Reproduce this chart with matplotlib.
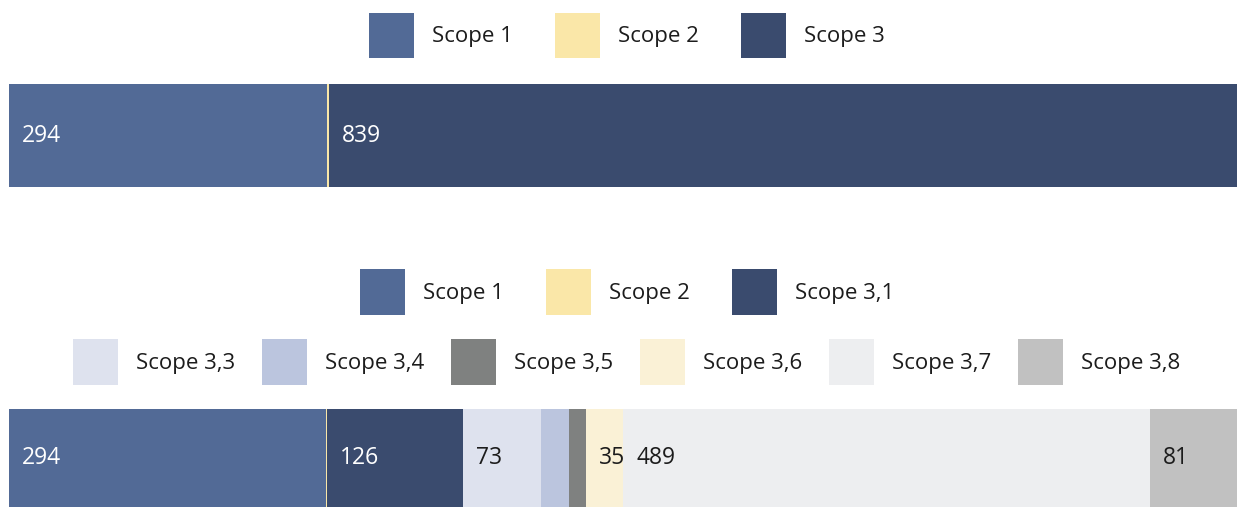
import matplotlib
matplotlib.use("Agg")
from matplotlib import pyplot as plt
from matplotlib.patches import Patch

plt.rcParams['font.family'] = ['Open Sans', 'DejaVu Sans']

# Top bar: total emissions by scope
top_labels = ["Scope 1", "Scope 2", "Scope 3"]
top_values = [294, 1.5, 839]
top_colors = ["#526a96", "#fae7a8", "#3a4b6e"]

# Bottom bar: scope 3 split into categories
bottom_labels = ["Scope 1", "Scope 2", "Scope 3,1", "Scope 3,3", "Scope 3,4",
                 "Scope 3,5", "Scope 3,6", "Scope 3,7", "Scope 3,8"]
bottom_values = [294, 1.5, 126, 73, 26, 15, 35, 489, 81]
bottom_colors = ["#526a96", "#fae7a8", "#3a4b6e", "#dee2ee", "#bbc5de",
                 "#7f8180", "#faf1d6", "#edeef0", "#c1c1c1"]

dark = ["#526a96", "#3a4b6e"]
FS = 16
W, H = 1237, 507
TXT = "#1c1c1c"


# Draws one stacked horizontal bar filling the whole axes
def stacked_bar(ax, values, colors):
    left = 0
    for v, c in zip(values, colors):
        ax.barh(0, v, left=left, height=1, color=c, linewidth=0)
        # only label segments wide enough to hold a number
        if v > 30:
            ax.annotate(f"{v:g}", xy=(left, 0), xytext=(9.5, 0), textcoords='offset points',
                        ha='left', va='center', fontsize=FS + 0.5,
                        color='white' if c in dark else TXT)
        left += v
    ax.set_xlim(0, sum(values))
    ax.set_ylim(-0.5, 0.5)
    ax.axis('off')


# handleheight 2.74 gives a 45 px tall patch at this font size
def legend_row(labels, colors, y, colspace):
    handles = [Patch(facecolor=c, edgecolor='none', label=l) for l, c in zip(labels, colors)]
    leg = fig.legend(handles=handles, loc='center', bbox_to_anchor=(627 / W, y), ncol=len(handles),
                     frameon=False, fontsize=FS, handlelength=2.03, handleheight=2.74,
                     handletextpad=0.81, columnspacing=colspace, borderpad=0, borderaxespad=0)
    for t in leg.get_texts():
        t.set_color(TXT)


fig = plt.figure(figsize=(W / 100, H / 100), dpi=100)

ax1 = fig.add_axes([9 / W, (H - 187) / H, 1228 / W, 103 / H])
stacked_bar(ax1, top_values, top_colors)

ax2 = fig.add_axes([9 / W, 0, 1228 / W, 98 / H])
stacked_bar(ax2, bottom_values, bottom_colors)

legend_row(top_labels, top_colors, 1 - 35.5 / H, 1.9)
legend_row(bottom_labels[:3], bottom_colors[:3], 1 - 292 / H, 1.9)
legend_row(bottom_labels[3:], bottom_colors[3:], 1 - 362 / H, 1.2)

fig.savefig("out.png", dpi=100)
